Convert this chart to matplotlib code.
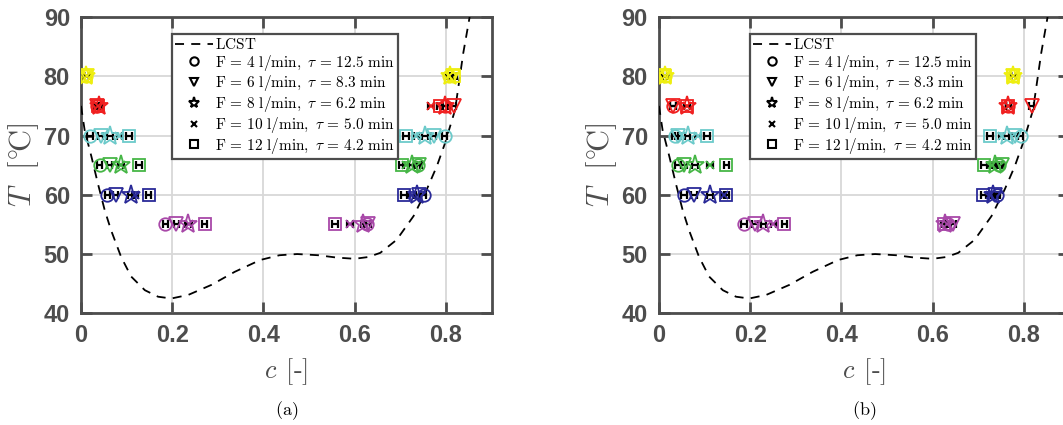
import numpy as np
import matplotlib
matplotlib.use('Agg')
import matplotlib.pyplot as plt
from matplotlib.lines import Line2D

plt.rcParams['mathtext.fontset'] = 'cm'
plt.rcParams['font.family'] = ['Liberation Sans', 'DejaVu Sans']

# LCST curve (concentration, temperature)
lcst_c = [0.0, 0.008, 0.023, 0.037, 0.052, 0.066, 0.088, 0.110, 0.140, 0.169,
          0.198, 0.235, 0.286, 0.337, 0.393, 0.435, 0.474, 0.520, 0.561, 0.600,
          0.630, 0.656, 0.692, 0.729, 0.758, 0.780, 0.798, 0.820, 0.838, 0.852]
lcst_T = [75.0, 70.9, 66.4, 61.9, 57.4, 54.0, 49.5, 46.2, 43.9, 42.8,
          42.5, 43.1, 44.8, 47.0, 49.0, 49.8, 50.0, 49.8, 49.4, 49.2,
          49.5, 50.2, 52.4, 56.4, 60.9, 64.8, 68.7, 74.3, 83.9, 90.0]

temps = [80, 75, 70, 65, 60, 55]
temp_colors = ['#eeee10', '#f02020', '#6ccaca', '#46b646', '#2a2a98', '#a848a8']

flow_labels = [
    r'$\mathrm{F}\,=\,4\ \mathrm{l/min},\ \tau\,=\,12.5\ \mathrm{min}$',
    r'$\mathrm{F}\,=\,6\ \mathrm{l/min},\ \tau\,=\,8.3\ \mathrm{min}$',
    r'$\mathrm{F}\,=\,8\ \mathrm{l/min},\ \tau\,=\,6.2\ \mathrm{min}$',
    r'$\mathrm{F}\,=\,10\ \mathrm{l/min},\ \tau\,=\,5.0\ \mathrm{min}$',
    r'$\mathrm{F}\,=\,12\ \mathrm{l/min},\ \tau\,=\,4.2\ \mathrm{min}$',
]
flow_markers = ['o', 'v', '*', 'x', 's']
marker_sizes = [9, 10, 14, 6, 9]

# cloud points, rows = flow (4, 6, 8, 10, 12 l/min), columns = temps
# (a) lower (left) branch
a_left = [
    [0.012, 0.036, 0.020, 0.041, 0.058, 0.185],
    [0.013, 0.034, 0.043, 0.063, 0.076, 0.209],
    [0.012, 0.040, 0.064, 0.087, 0.110, 0.235],
    [0.013, 0.038, 0.084, 0.088, 0.118, 0.237],
    [0.012, 0.037, 0.105, 0.127, 0.148, 0.271],
]
# (a) upper (right) branch
a_right = [
    [0.806, 0.798, 0.797, 0.738, 0.751, 0.627],
    [0.816, 0.817, 0.773, 0.742, 0.740, 0.630],
    [0.810, 0.798, 0.754, 0.725, 0.736, 0.619],
    [0.806, 0.767, 0.735, 0.713, 0.725, 0.590],
    [0.818, 0.787, 0.713, 0.703, 0.708, 0.557],
]
# (b) lower branch
b_left = [
    [0.013, 0.031, 0.035, 0.042, 0.055, 0.186],
    [0.012, 0.031, 0.042, 0.055, 0.077, 0.211],
    [0.013, 0.061, 0.063, 0.079, 0.112, 0.229],
    [0.014, 0.061, 0.086, 0.112, 0.142, 0.251],
    [0.013, 0.061, 0.105, 0.148, 0.148, 0.275],
]
# (b) upper branch
b_right = [
    [0.777, 0.766, 0.793, 0.746, 0.742, 0.634],
    [0.777, 0.817, 0.781, 0.751, 0.737, 0.645],
    [0.777, 0.766, 0.762, 0.737, 0.733, 0.627],
    [0.777, 0.766, 0.751, 0.730, 0.726, 0.632],
    [0.777, 0.766, 0.726, 0.713, 0.711, 0.624],
]
c_err = 0.006

axis_grey = '#4d4d4d'


def draw_panel(ax, left_pts, right_pts, tag):
    ax.plot(lcst_c, lcst_T, ls=(0, (5, 4)), color='black', lw=1.3, zorder=3)
    for f in range(len(flow_markers)):
        for branch in (left_pts, right_pts):
            for k, T in enumerate(temps):
                c = branch[f][k]
                ax.errorbar(c, T, xerr=c_err, fmt='none', ecolor='black',
                            elinewidth=1.6, capsize=3, capthick=1.6, zorder=4)
                ax.plot(c, T, marker=flow_markers[f], ms=marker_sizes[f],
                        mfc='none', mec=temp_colors[k], mew=1.3, ls='none', zorder=5)
    ax.set_xlim(0, 0.9)
    ax.set_ylim(40, 90)
    ax.set_xticks([0, 0.2, 0.4, 0.6, 0.8])
    ax.set_xticklabels(['0', '0.2', '0.4', '0.6', '0.8'])
    ax.set_yticks([40, 50, 60, 70, 80, 90])
    ax.grid(True, color='#d8d8d8', lw=1.3)
    ax.set_axisbelow(True)
    ax.tick_params(direction='in', length=8, width=2, colors=axis_grey,
                   top=True, right=True, labelsize=17, pad=8)
    for lab in ax.get_xticklabels() + ax.get_yticklabels():
        lab.set_fontweight('bold')
    for sp in ax.spines.values():
        sp.set_color(axis_grey)
        sp.set_linewidth(2)
    ax.set_xlabel(r'$c\;\,[\text{-}]$', fontsize=19, color=axis_grey, labelpad=6)
    ax.set_ylabel(r'$T\;\;\,[^{\circ}\!\mathrm{C}]$', fontsize=22, color=axis_grey, labelpad=2)

    handles = [Line2D([], [], ls=(0, (5, 4)), color='black', lw=1.3)]
    for m in flow_markers:
        handles.append(Line2D([], [], ls='none', marker=m, mfc='none', mec='black',
                              mew=1.5, ms={'*': 8, 'x': 4.5}.get(m, 6)))
    leg = ax.legend(handles, [r'$\mathrm{LCST}$'] + flow_labels,
                    loc='upper left', bbox_to_anchor=(0.222, 0.943),
                    prop={'size': 11}, handlelength=2.5, handletextpad=0.1,
                    borderpad=0.2, labelspacing=0.05, borderaxespad=0,
                    fancybox=False, framealpha=1)
    leg.get_frame().set_edgecolor(axis_grey)
    leg.get_frame().set_linewidth(1.6)
    ax.text(0.5, -0.33, r'$\mathrm{(' + tag + ')}$', transform=ax.transAxes,
            ha='center', va='center', fontsize=13)


fig = plt.figure(figsize=(10.63, 4.25), dpi=100)
ax1 = fig.add_axes([0.0762, 0.2628, 0.3862, 0.6972])
ax2 = fig.add_axes([0.6199, 0.2628, 0.3862, 0.6972])

draw_panel(ax1, a_left, a_right, 'a')
draw_panel(ax2, b_left, b_right, 'b')

fig.savefig('out.png', dpi=100)
